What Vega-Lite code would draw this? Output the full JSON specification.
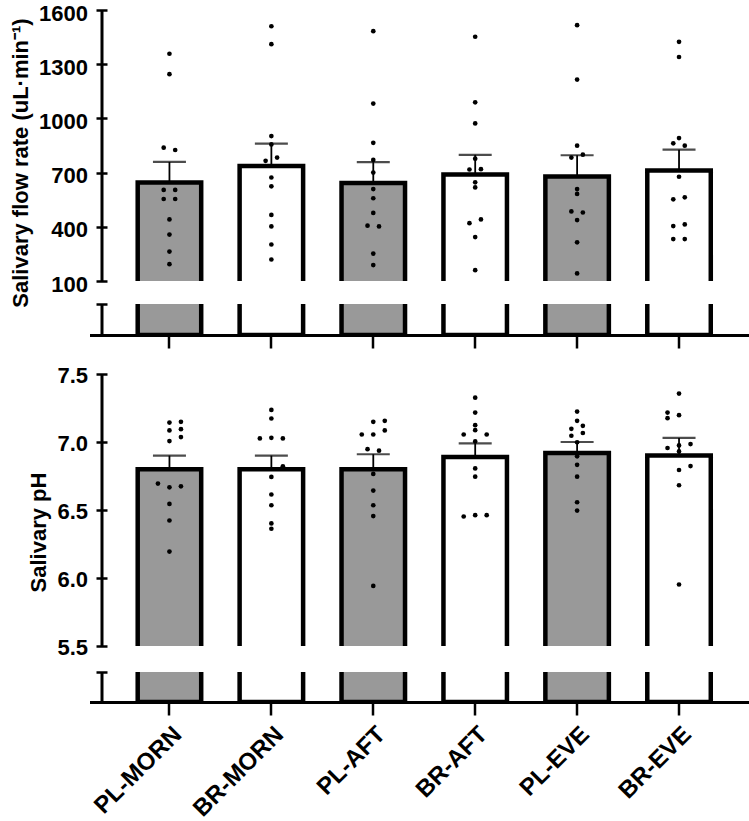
{
  "$schema": "https://vega.github.io/schema/vega-lite/v6.json",
  "padding": {"left": 9.5, "top": 2, "right": 0, "bottom": 0},
  "config": {
    "view": {"stroke": null},
    "font": "Liberation Sans",
    "axis": {
      "grid": false,
      "domainColor": "black",
      "tickColor": "black",
      "labelColor": "black",
      "titleColor": "black",
      "labelFont": "Liberation Sans",
      "titleFont": "Liberation Sans",
      "labelFontWeight": "bold",
      "titleFontWeight": "bold",
      "labelFontSize": 23,
      "titleFontSize": 22,
      "domainWidth": 3,
      "tickWidth": 2.5
    }
  },
  "datasets": {
    "flowSummary": [
      {"group": "PL-MORN", "type": "PL", "mean": 645, "upper": 759},
      {"group": "BR-MORN", "type": "BR", "mean": 737, "upper": 860},
      {"group": "PL-AFT", "type": "PL", "mean": 643, "upper": 758},
      {"group": "BR-AFT", "type": "BR", "mean": 689, "upper": 798},
      {"group": "PL-EVE", "type": "PL", "mean": 679, "upper": 796},
      {"group": "BR-EVE", "type": "BR", "mean": 711, "upper": 827}
    ],
    "phSummary": [
      {"group": "PL-MORN", "type": "PL", "mean": 6.80, "upper": 6.90},
      {"group": "BR-MORN", "type": "BR", "mean": 6.80, "upper": 6.90},
      {"group": "PL-AFT", "type": "PL", "mean": 6.80, "upper": 6.91},
      {"group": "BR-AFT", "type": "BR", "mean": 6.89, "upper": 6.99},
      {"group": "PL-EVE", "type": "PL", "mean": 6.92, "upper": 7.00},
      {"group": "BR-EVE", "type": "BR", "mean": 6.90, "upper": 7.03}
    ],
    "flowPoints": [
      {"group": "PL-MORN", "value": 1358, "dx": 0},
      {"group": "PL-MORN", "value": 1245, "dx": 0},
      {"group": "PL-MORN", "value": 838, "dx": -1},
      {"group": "PL-MORN", "value": 825, "dx": 1},
      {"group": "PL-MORN", "value": 604, "dx": -1},
      {"group": "PL-MORN", "value": 604, "dx": 1},
      {"group": "PL-MORN", "value": 554, "dx": -1},
      {"group": "PL-MORN", "value": 554, "dx": 1},
      {"group": "PL-MORN", "value": 441, "dx": 0},
      {"group": "PL-MORN", "value": 357, "dx": 0},
      {"group": "PL-MORN", "value": 263, "dx": 0},
      {"group": "PL-MORN", "value": 193, "dx": 0},
      {"group": "BR-MORN", "value": 1510, "dx": 0},
      {"group": "BR-MORN", "value": 1411, "dx": 0},
      {"group": "BR-MORN", "value": 902, "dx": 0},
      {"group": "BR-MORN", "value": 856, "dx": 0},
      {"group": "BR-MORN", "value": 783, "dx": 1},
      {"group": "BR-MORN", "value": 765, "dx": -1},
      {"group": "BR-MORN", "value": 673, "dx": 0},
      {"group": "BR-MORN", "value": 624, "dx": 0},
      {"group": "BR-MORN", "value": 466, "dx": 0},
      {"group": "BR-MORN", "value": 402, "dx": 0},
      {"group": "BR-MORN", "value": 302, "dx": 0},
      {"group": "BR-MORN", "value": 219, "dx": 0},
      {"group": "PL-AFT", "value": 1483, "dx": 0},
      {"group": "PL-AFT", "value": 1082, "dx": 0},
      {"group": "PL-AFT", "value": 865, "dx": 0},
      {"group": "PL-AFT", "value": 770, "dx": 0},
      {"group": "PL-AFT", "value": 700, "dx": 0},
      {"group": "PL-AFT", "value": 609, "dx": 0},
      {"group": "PL-AFT", "value": 558, "dx": 0},
      {"group": "PL-AFT", "value": 477, "dx": 0},
      {"group": "PL-AFT", "value": 406, "dx": -1},
      {"group": "PL-AFT", "value": 402, "dx": 1},
      {"group": "PL-AFT", "value": 252, "dx": 0},
      {"group": "PL-AFT", "value": 188, "dx": 0},
      {"group": "BR-AFT", "value": 1452, "dx": 0},
      {"group": "BR-AFT", "value": 1089, "dx": 0},
      {"group": "BR-AFT", "value": 972, "dx": 0},
      {"group": "BR-AFT", "value": 777, "dx": 0},
      {"group": "BR-AFT", "value": 717, "dx": -1},
      {"group": "BR-AFT", "value": 719, "dx": 1},
      {"group": "BR-AFT", "value": 646, "dx": 0},
      {"group": "BR-AFT", "value": 618, "dx": 0},
      {"group": "BR-AFT", "value": 420, "dx": -1},
      {"group": "BR-AFT", "value": 441, "dx": 1},
      {"group": "BR-AFT", "value": 343, "dx": 0},
      {"group": "BR-AFT", "value": 160, "dx": 0},
      {"group": "PL-EVE", "value": 1516, "dx": 0},
      {"group": "PL-EVE", "value": 1215, "dx": 0},
      {"group": "PL-EVE", "value": 849, "dx": 0},
      {"group": "PL-EVE", "value": 783, "dx": -1},
      {"group": "PL-EVE", "value": 799, "dx": 1},
      {"group": "PL-EVE", "value": 609, "dx": 0},
      {"group": "PL-EVE", "value": 582, "dx": 0},
      {"group": "PL-EVE", "value": 485, "dx": -1},
      {"group": "PL-EVE", "value": 479, "dx": 1},
      {"group": "PL-EVE", "value": 437, "dx": 0},
      {"group": "PL-EVE", "value": 314, "dx": 0},
      {"group": "PL-EVE", "value": 142, "dx": 0},
      {"group": "BR-EVE", "value": 1424, "dx": 0},
      {"group": "BR-EVE", "value": 1340, "dx": 0},
      {"group": "BR-EVE", "value": 891, "dx": 0},
      {"group": "BR-EVE", "value": 862, "dx": -1},
      {"group": "BR-EVE", "value": 849, "dx": 1},
      {"group": "BR-EVE", "value": 677, "dx": 0},
      {"group": "BR-EVE", "value": 552, "dx": -1},
      {"group": "BR-EVE", "value": 563, "dx": 1},
      {"group": "BR-EVE", "value": 404, "dx": -1},
      {"group": "BR-EVE", "value": 413, "dx": 1},
      {"group": "BR-EVE", "value": 332, "dx": -1},
      {"group": "BR-EVE", "value": 332, "dx": 1}
    ],
    "phPoints": [
      {"group": "PL-MORN", "value": 7.143, "dx": 0},
      {"group": "PL-MORN", "value": 7.148, "dx": 2},
      {"group": "PL-MORN", "value": 7.085, "dx": 0},
      {"group": "PL-MORN", "value": 7.094, "dx": 2},
      {"group": "PL-MORN", "value": 7.007, "dx": 0},
      {"group": "PL-MORN", "value": 7.036, "dx": 2},
      {"group": "PL-MORN", "value": 6.694, "dx": -2},
      {"group": "PL-MORN", "value": 6.667, "dx": 0},
      {"group": "PL-MORN", "value": 6.674, "dx": 2},
      {"group": "PL-MORN", "value": 6.545, "dx": 0},
      {"group": "PL-MORN", "value": 6.423, "dx": 0},
      {"group": "PL-MORN", "value": 6.194, "dx": 0},
      {"group": "BR-MORN", "value": 7.236, "dx": 0},
      {"group": "BR-MORN", "value": 7.173, "dx": 0},
      {"group": "BR-MORN", "value": 7.026, "dx": -2},
      {"group": "BR-MORN", "value": 7.031, "dx": 0},
      {"group": "BR-MORN", "value": 7.026, "dx": 2},
      {"group": "BR-MORN", "value": 6.821, "dx": 2},
      {"group": "BR-MORN", "value": 6.743, "dx": 0},
      {"group": "BR-MORN", "value": 6.614, "dx": 0},
      {"group": "BR-MORN", "value": 6.535, "dx": 0},
      {"group": "BR-MORN", "value": 6.401, "dx": 0},
      {"group": "BR-MORN", "value": 6.362, "dx": 0},
      {"group": "PL-AFT", "value": 7.148, "dx": 0},
      {"group": "PL-AFT", "value": 7.156, "dx": 2},
      {"group": "PL-AFT", "value": 7.055, "dx": -2},
      {"group": "PL-AFT", "value": 7.055, "dx": 0},
      {"group": "PL-AFT", "value": 7.085, "dx": 2},
      {"group": "PL-AFT", "value": 6.947, "dx": -1},
      {"group": "PL-AFT", "value": 6.936, "dx": 1},
      {"group": "PL-AFT", "value": 6.765, "dx": 0},
      {"group": "PL-AFT", "value": 6.643, "dx": 0},
      {"group": "PL-AFT", "value": 6.535, "dx": 0},
      {"group": "PL-AFT", "value": 6.455, "dx": 0},
      {"group": "PL-AFT", "value": 5.942, "dx": 0},
      {"group": "BR-AFT", "value": 7.326, "dx": 0},
      {"group": "BR-AFT", "value": 7.216, "dx": 0},
      {"group": "BR-AFT", "value": 7.124, "dx": 0},
      {"group": "BR-AFT", "value": 7.087, "dx": 0},
      {"group": "BR-AFT", "value": 7.055, "dx": -2},
      {"group": "BR-AFT", "value": 7.055, "dx": 2},
      {"group": "BR-AFT", "value": 7.004, "dx": 0},
      {"group": "BR-AFT", "value": 6.806, "dx": 0},
      {"group": "BR-AFT", "value": 6.745, "dx": 0},
      {"group": "BR-AFT", "value": 6.452, "dx": -2},
      {"group": "BR-AFT", "value": 6.462, "dx": 0},
      {"group": "BR-AFT", "value": 6.462, "dx": 2},
      {"group": "PL-EVE", "value": 7.224, "dx": 0},
      {"group": "PL-EVE", "value": 7.156, "dx": 0},
      {"group": "PL-EVE", "value": 7.097, "dx": -1},
      {"group": "PL-EVE", "value": 7.119, "dx": 1},
      {"group": "PL-EVE", "value": 7.046, "dx": -1},
      {"group": "PL-EVE", "value": 7.066, "dx": 1},
      {"group": "PL-EVE", "value": 6.998, "dx": 0},
      {"group": "PL-EVE", "value": 6.895, "dx": 0},
      {"group": "PL-EVE", "value": 6.832, "dx": 0},
      {"group": "PL-EVE", "value": 6.745, "dx": 0},
      {"group": "PL-EVE", "value": 6.557, "dx": 0},
      {"group": "PL-EVE", "value": 6.496, "dx": 0},
      {"group": "BR-EVE", "value": 7.356, "dx": 0},
      {"group": "BR-EVE", "value": 7.216, "dx": -2},
      {"group": "BR-EVE", "value": 7.175, "dx": -2},
      {"group": "BR-EVE", "value": 7.197, "dx": 0},
      {"group": "BR-EVE", "value": 6.956, "dx": -2},
      {"group": "BR-EVE", "value": 6.975, "dx": 0},
      {"group": "BR-EVE", "value": 6.985, "dx": 2},
      {"group": "BR-EVE", "value": 6.931, "dx": 0},
      {"group": "BR-EVE", "value": 6.794, "dx": 0},
      {"group": "BR-EVE", "value": 6.823, "dx": 2},
      {"group": "BR-EVE", "value": 6.682, "dx": 0},
      {"group": "BR-EVE", "value": 5.952, "dx": 0}
    ]
  },
  "spacing": 0,
  "bounds": "flush",
  "resolve": {"scale": {"y": "independent"}},
  "vconcat": [
    {
      "width": 659.5,
      "height": 271,
      "layer": [
        {
          "data": {"name": "flowSummary"},
          "mark": {"type": "bar", "clip": true, "stroke": "black", "strokeWidth": 4.5, "width": 63.5},
          "encoding": {
            "x": {"field": "group", "type": "nominal", "scale": {"domain": ["PL-MORN", "BR-MORN", "PL-AFT", "BR-AFT", "PL-EVE", "BR-EVE"], "paddingInner": 0, "paddingOuter": 0.2355, "align": 0.604}, "axis": null},
            "y": {"field": "mean", "type": "quantitative", "scale": {"domain": [100, 1600], "nice": false, "zero": false},
              "axis": {"values": [100, 400, 700, 1000, 1300, 1600], "format": "d", "ticks": false, "tickSize": 0, "labelPadding": 14, "labelFontSize": 22, "labelOffset": 3, "offset": -12, "title": "Salivary flow rate (uL·min⁻¹)", "titlePadding": 6, "titleY": 152.5}},
            "y2": {"datum": 0},
            "fill": {"field": "type", "type": "nominal", "scale": {"domain": ["PL", "BR"], "range": ["#999999", "#ffffff"]}, "legend": null}
          }
        },
        {
          "data": {"name": "flowSummary"},
          "mark": {"type": "rule", "color": "black", "strokeWidth": 1.8},
          "encoding": {
            "x": {"field": "group", "type": "nominal", "axis": null},
            "y": {"field": "mean", "type": "quantitative", "scale": {"domain": [100, 1600], "nice": false, "zero": false}, "axis": null},
            "y2": {"field": "upper"}
          }
        },
        {
          "data": {"name": "flowSummary"},
          "mark": {"type": "tick", "color": "black", "thickness": 2.2, "orient": "horizontal"},
          "encoding": {
            "x": {"field": "group", "type": "nominal", "axis": null},
            "y": {"field": "upper", "type": "quantitative", "scale": {"domain": [100, 1600], "nice": false, "zero": false}, "axis": null},
            "size": {"value": 33}
          }
        },
        {
          "data": {"name": "flowPoints"},
          "mark": {"type": "circle", "color": "black", "opacity": 1, "size": 22},
          "encoding": {
            "x": {"field": "group", "type": "nominal", "axis": null},
            "xOffset": {"field": "dx", "type": "ordinal", "scale": {"domain": [-2, -1, 0, 1, 2], "paddingInner": 0, "paddingOuter": 0, "range": [39.45, 62.45]}},
            "y": {"field": "value", "type": "quantitative", "scale": {"domain": [100, 1600], "nice": false, "zero": false},
              "axis": {"orient": "left", "offset": -17.5, "domain": false, "labels": false, "ticks": true, "tickSize": 11, "values": [100, 400, 700, 1000, 1300, 1600], "title": null}}
          }
        }
      ],
      "resolve": {"axis": {"y": "independent"}}
    },
    {
      "width": 659.5,
      "height": 23,
      "data": {"values": [{"a": 1}]},
      "mark": {"type": "point", "opacity": 0},
      "encoding": {}
    },
    {
      "width": 659.5,
      "height": 31,
      "layer": [
        {
          "data": {"name": "flowSummary"},
          "mark": {"type": "bar", "clip": true, "stroke": "black", "strokeWidth": 4.5, "width": 63.5},
          "encoding": {
            "x": {"field": "group", "type": "nominal", "scale": {"domain": ["PL-MORN", "BR-MORN", "PL-AFT", "BR-AFT", "PL-EVE", "BR-EVE"], "paddingInner": 0, "paddingOuter": 0.2355, "align": 0.604},
              "axis": {"orient": "bottom", "domain": true, "ticks": true, "tickSize": 13, "labels": false, "title": null}},
            "y": {"field": "mean", "type": "quantitative", "scale": {"domain": [0, 100], "nice": false},
              "axis": {"values": [100], "labels": false, "ticks": false, "offset": -12, "title": null}},
            "y2": {"datum": 0},
            "fill": {"field": "type", "type": "nominal", "scale": {"domain": ["PL", "BR"], "range": ["#999999", "#ffffff"]}, "legend": null}
          }
        },
        {
          "data": {"name": "flowSummary"},
          "mark": {"type": "bar", "clip": true, "opacity": 0, "width": 63.5},
          "encoding": {
            "x": {"field": "group", "type": "nominal", "scale": {"domain": ["PL-MORN", "BR-MORN", "PL-AFT", "BR-AFT", "PL-EVE", "BR-EVE"], "paddingInner": 0, "paddingOuter": 0.2355, "align": 0.604},
              "axis": {"orient": "bottom", "domain": true, "ticks": true, "tickSize": 13, "labels": false, "title": null}},
            "y": {"field": "mean", "type": "quantitative", "scale": {"domain": [0, 100], "nice": false},
              "axis": {"orient": "left", "offset": -17.5, "domain": false, "labels": false, "ticks": true, "tickSize": 11, "values": [100], "title": null}}
          }
        }
      ],
      "resolve": {"axis": {"y": "independent"}}
    },
    {
      "width": 659.5,
      "height": 39,
      "data": {"values": [{"a": 1}]},
      "mark": {"type": "point", "opacity": 0},
      "encoding": {}
    },
    {
      "width": 659.5,
      "height": 272,
      "layer": [
        {
          "data": {"name": "phSummary"},
          "mark": {"type": "bar", "clip": true, "stroke": "black", "strokeWidth": 4.5, "width": 63.5},
          "encoding": {
            "x": {"field": "group", "type": "nominal", "scale": {"domain": ["PL-MORN", "BR-MORN", "PL-AFT", "BR-AFT", "PL-EVE", "BR-EVE"], "paddingInner": 0, "paddingOuter": 0.2355, "align": 0.604}, "axis": null},
            "y": {"field": "mean", "type": "quantitative", "scale": {"domain": [5.5, 7.5], "nice": false, "zero": false},
              "axis": {"values": [5.5, 6, 6.5, 7, 7.5], "format": ".1f", "ticks": false, "tickSize": 0, "labelPadding": 14, "labelFontSize": 22, "labelOffset": 1, "offset": -12, "title": "Salivary pH", "titlePadding": 6, "titleY": 158}},
            "y2": {"datum": 0},
            "fill": {"field": "type", "type": "nominal", "scale": {"domain": ["PL", "BR"], "range": ["#999999", "#ffffff"]}, "legend": null}
          }
        },
        {
          "data": {"name": "phSummary"},
          "mark": {"type": "rule", "color": "black", "strokeWidth": 1.8},
          "encoding": {
            "x": {"field": "group", "type": "nominal", "axis": null},
            "y": {"field": "mean", "type": "quantitative", "scale": {"domain": [5.5, 7.5], "nice": false, "zero": false}, "axis": null},
            "y2": {"field": "upper"}
          }
        },
        {
          "data": {"name": "phSummary"},
          "mark": {"type": "tick", "color": "black", "thickness": 2.2, "orient": "horizontal"},
          "encoding": {
            "x": {"field": "group", "type": "nominal", "axis": null},
            "y": {"field": "upper", "type": "quantitative", "scale": {"domain": [5.5, 7.5], "nice": false, "zero": false}, "axis": null},
            "size": {"value": 33}
          }
        },
        {
          "data": {"name": "phPoints"},
          "mark": {"type": "circle", "color": "black", "opacity": 1, "size": 22},
          "encoding": {
            "x": {"field": "group", "type": "nominal", "axis": null},
            "xOffset": {"field": "dx", "type": "ordinal", "scale": {"domain": [-2, -1, 0, 1, 2], "paddingInner": 0, "paddingOuter": 0, "range": [39.45, 62.45]}},
            "y": {"field": "value", "type": "quantitative", "scale": {"domain": [5.5, 7.5], "nice": false, "zero": false},
              "axis": {"orient": "left", "offset": -17.5, "domain": false, "labels": false, "ticks": true, "tickSize": 11, "values": [5.5, 6, 6.5, 7, 7.5], "title": null}}
          }
        }
      ],
      "resolve": {"axis": {"y": "independent"}}
    },
    {
      "width": 659.5,
      "height": 26,
      "data": {"values": [{"a": 1}]},
      "mark": {"type": "point", "opacity": 0},
      "encoding": {}
    },
    {
      "width": 659.5,
      "height": 30,
      "layer": [
        {
          "data": {"name": "phSummary"},
          "mark": {"type": "bar", "clip": true, "stroke": "black", "strokeWidth": 4.5, "width": 63.5},
          "encoding": {
            "x": {"field": "group", "type": "nominal", "scale": {"domain": ["PL-MORN", "BR-MORN", "PL-AFT", "BR-AFT", "PL-EVE", "BR-EVE"], "paddingInner": 0, "paddingOuter": 0.2355, "align": 0.604},
              "axis": {"orient": "bottom", "domain": true, "ticks": true, "tickSize": 13, "labels": true, "labelAngle": -45, "labelPadding": 7, "labelFontSize": 24, "title": null}},
            "y": {"field": "mean", "type": "quantitative", "scale": {"domain": [0, 5.5], "nice": false},
              "axis": {"values": [5.5], "labels": false, "ticks": false, "offset": -12, "title": null}},
            "y2": {"datum": 0},
            "fill": {"field": "type", "type": "nominal", "scale": {"domain": ["PL", "BR"], "range": ["#999999", "#ffffff"]}, "legend": null}
          }
        },
        {
          "data": {"name": "phSummary"},
          "mark": {"type": "bar", "clip": true, "opacity": 0, "width": 63.5},
          "encoding": {
            "x": {"field": "group", "type": "nominal", "scale": {"domain": ["PL-MORN", "BR-MORN", "PL-AFT", "BR-AFT", "PL-EVE", "BR-EVE"], "paddingInner": 0, "paddingOuter": 0.2355, "align": 0.604},
              "axis": {"orient": "bottom", "domain": true, "ticks": true, "tickSize": 13, "labels": true, "labelAngle": -45, "labelPadding": 7, "labelFontSize": 24, "title": null}},
            "y": {"field": "mean", "type": "quantitative", "scale": {"domain": [0, 5.5], "nice": false},
              "axis": {"orient": "left", "offset": -17.5, "domain": false, "labels": false, "ticks": true, "tickSize": 11, "values": [5.5], "title": null}}
          }
        }
      ],
      "resolve": {"axis": {"y": "independent"}}
    }
  ]
}
